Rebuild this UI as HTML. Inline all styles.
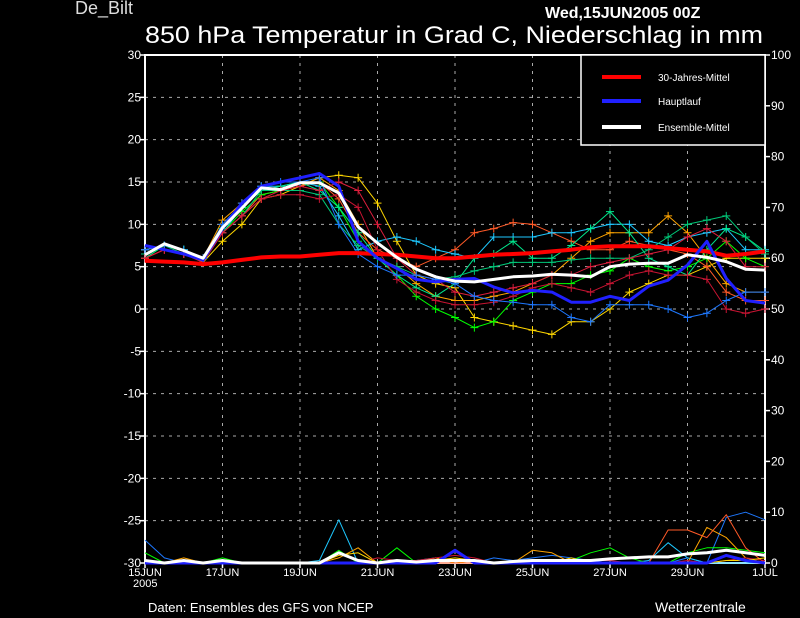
<!DOCTYPE html>
<html><head><meta charset="utf-8"><style>
html,body{margin:0;padding:0;background:#000;width:800px;height:618px;overflow:hidden}
svg{display:block;font-family:"Liberation Sans",sans-serif}
</style></head><body>
<svg id="c" width="800" height="618" viewBox="0 0 800 618">
<rect x="0" y="0" width="800" height="618" fill="#000"/>
<text x="75" y="14" fill="#ddd" font-size="18">De_Bilt</text>
<text x="545" y="18" fill="#fff" font-size="16" font-weight="bold">Wed,15JUN2005 00Z</text>
<text x="145" y="43" fill="#fff" font-size="24" textLength="618" lengthAdjust="spacingAndGlyphs">850 hPa Temperatur in Grad C, Niederschlag in mm</text>
<text x="148" y="612" fill="#fff" font-size="13">Daten: Ensembles des GFS von NCEP</text>
<text x="655" y="612" fill="#fff" font-size="14">Wetterzentrale</text>
<g id="grid"></g><g id="axes"></g><g id="prec"></g><g id="temp"></g>
<g>
<rect x="581" y="55" width="184" height="90" fill="#000" stroke="#fff" stroke-width="1.5"/>
<line x1="602" y1="77" x2="641" y2="77" stroke="#f00" stroke-width="4"/>
<text x="658" y="81" fill="#fff" font-size="10">30-Jahres-Mittel</text>
<line x1="602" y1="101" x2="641" y2="101" stroke="#2020ff" stroke-width="4"/>
<text x="658" y="105" fill="#fff" font-size="10">Hauptlauf</text>
<line x1="602" y1="127" x2="641" y2="127" stroke="#fff" stroke-width="4"/>
<text x="658" y="131" fill="#fff" font-size="10">Ensemble-Mittel</text>
</g>
</svg>
<script>
const tempTicks=[30,25,20,15,10,5,0,-5,-10,-15,-20,-25,-30];
const precTicks=[100,90,80,70,60,50,40,30,20,10,0];
const dayLabels=["15JUN","17JUN","19JUN","21JUN","23JUN","25JUN","27JUN","29JUN","1JUL"];
const climate=[5.7,5.6,5.5,5.3,5.5,5.8,6.1,6.2,6.2,6.4,6.6,6.6,6.5,6.4,6.2,6.0,6.0,6.2,6.4,6.5,6.6,6.8,7.0,7.3,7.4,7.4,7.4,7.2,7.0,6.8,6.3,6.5,6.8];
const mainRun=[7.5,7.0,6.5,5.8,9.5,12.5,14.5,15,15.5,16,14.5,8,6,4.8,3.5,3.2,3.5,3.6,2.6,1.9,2.2,2.0,0.8,0.8,1.5,1.0,2.7,3.4,5.2,8.0,3.6,1.0,0.7];
const ensMean=[6.4,7.7,6.9,6.0,9.6,11.9,14.3,14.1,14.9,14.9,13.7,9.7,7.8,6.1,4.7,3.8,3.3,3.2,3.5,3.8,3.9,4.1,4.0,3.8,5.0,5.3,5.4,5.4,6.4,6.1,5.6,4.7,4.6];
const memYellow=[7,7.5,7,5.5,8,10,13,13.5,14.5,15.5,15.8,15.5,12.5,8,4,3,2.5,-1,-1.5,-2,-2.5,-3,-1.5,-1.5,0,2,3,4,4,5,6,6,6];
const memOrange=[7,7.5,7,6,10.5,12.5,14,14,14.5,15.5,14,10,6,5,3,1.5,1,1,1.5,2,3,4,6,8,9,9,9,11,9,6,3,2,2];
const memRedOrange=[6,7,6.5,6,9,11,13.5,14,14.5,15,13,9,7,6,5,6,7,9,9.5,10.2,10,9,8,7,7,8,7.5,7,6.5,5,2,1,1];
const memCyan=[7,7.5,7,6,9,12,14.5,14.5,15,14.5,11,7,8,8.5,8,7,6.5,6,8.5,8.5,8.5,9,9,9.5,10,10,8,7.5,8.5,9,9.5,7,7];
const memGreen=[6,7.5,7,6,9,11.5,13.5,14,15,15,12,8,6,4,1.5,0,-1,-2.2,-1.5,1,2,3,3,4,4.5,6,5,4.5,5,6,8,6,5];
const memSpring=[6,7.5,7,6,9.5,12,14,14.5,15,14,12,9,6,4,2.5,1.5,3,6,6.5,8,6,6,7.5,9.5,11.5,9,6,5,4,7,9.5,8.5,6.8];
const memSea=[6.5,7.5,6.5,6,9,11,14,14,14,13.5,10,7.5,6,5,4,3.5,3.8,4.5,5,5.5,5.5,5.5,5.8,6,6,6,7,8.5,10,10.5,11,8.5,6.5];
const memDarkRed=[6,7,6.5,6,9,11,13,13.5,13.5,13,13.5,12,7,3.5,2,1,0.5,0.5,0.8,1.5,2.5,3,2.5,2,3,4,4.5,4,4,3.5,0,-0.5,0];
const memCrimson=[6,7,6.5,5.5,9,11,13,14,14.5,14,15,14,10,6,4,3.5,2,1.5,2,2.5,3,4,4,5,5.5,6,6.5,7,8.5,9.5,8,5,5];
const memBlue=[7,7.5,7,6,10,12.5,14.5,15,15,15.5,10,6.5,5,4,4,3.5,3,1.5,1,0.8,0.5,0.5,-1,-1.5,0.5,0.5,0.5,0,-1,-0.5,1,2,2];
const precBlue=[4.5,1,0,0,0,0,0,0,0,0,0,0,0,0,0,0,0,0,1,0.5,1,1.5,1,0.5,0,0,0,0,1,0,9,10,8.5];
const precCyan=[0,0,0,0,0,0,0,0,0,0.5,8.5,0,0,0,0.5,1,0,0,0,0,0,0,0,0,0,0,0.5,4,1,0,0,0,0];
const precGreen=[2,0,0,0,1,0,0,0,0,0,2.5,0,0,3,0,0,0,0,0,0,0,0,0.5,2,3,1,0,0,2,3,3,2.5,2];
const precOrange=[0,0,1,0,0.5,0,0,0,0,0,1,3,0,0,0,1,0,0.5,0,0,2.5,2,0,0,0,0,0,0,0,7,5,1,0];
const precRedOrange=[0,0,0,0,0,0,0,0,0,0,0,0,0,0,0,0,0,0,0,0,0,0,0,0,0,0,0,6.5,6.5,5,9.5,3,0];
const precDarkRed=[0,0,0.5,0,0,0,0,0,0,0,0,0,1,0.5,0.5,1,1.5,1,0,0,0,0,0,0.5,0.5,0,0,0,0.5,0,0.5,1,0.5];
const precYellow=[0,0,0.5,0,0.5,0,0,0,0,0,1.5,2,0,0,0,0.5,1,0.5,0,0,0,0,1,0,0,0,0,0,0,0,0.5,0.5,1];
const precMain=[0,0,0,0,0,0,0,0,0,0,0,0,0,0,0,0,2.5,0,0,0,0,0,0,0,0,0,0,0,0,0,1.5,0.5,0];
const precMean=[0.5,0,0.5,0,0.5,0,0,0,0,0,2,0.5,0,0.5,0.2,0.5,0.5,0.5,0,0.3,0.5,0.5,0.5,0.5,0.8,1,1.2,1.2,1.8,2,2.5,2,1.5];

const X0=145,X1=765,Y0=563,Y1=55,N=33;
const xAt=i=>X0+i*(X1-X0)/(N-1);
const yT=v=>Y0-(v+30)*(Y0-Y1)/60;
const yP=v=>Y0-v*(Y0-Y1)/100;
const NS="http://www.w3.org/2000/svg";
function mk(tag,attrs,parent){const e=document.createElementNS(NS,tag);for(const k in attrs)e.setAttribute(k,attrs[k]);parent.appendChild(e);return e;}
const grid=document.getElementById('grid'),axes=document.getElementById('axes'),prec=document.getElementById('prec'),temp=document.getElementById('temp');
tempTicks.forEach(t=>{
  const y=yT(t);
  if(t>-30&&t<30){const l=mk('line',{x1:X0,x2:X1,y1:y,y2:y,stroke:'#aaa','stroke-width':1,'stroke-dasharray':'3,5'},grid);
  
  }
  const tk=mk('line',{x1:X0-5,x2:X0,y1:y,y2:y,stroke:'#fff','stroke-width':1.5},axes);
  
  
  const tx=mk('text',{x:X0-4,y:y+4,fill:'#fff','font-size':12,'text-anchor':'end'},axes);
  tx.textContent=t;
  
  
});
precTicks.forEach(p=>{
  const y=yP(p);
  const tk=mk('line',{x1:X1,x2:X1+5,y1:y,y2:y,stroke:'#fff','stroke-width':1.5},axes);
  
  
  const tx=mk('text',{x:X1+6,y:y+4,fill:'#fff','font-size':12},axes);
  tx.textContent=p;
  
  
});
dayLabels.forEach((d,k)=>{
  const x=xAt(k*4);
  if(k>0&&k<dayLabels.length-1){const l=mk('line',{x1:x,x2:x,y1:Y1,y2:Y0,stroke:'#aaa','stroke-width':1,'stroke-dasharray':'3,5'},grid);
  
  }
  const tk=mk('line',{x1:x,x2:x,y1:Y0,y2:Y0+5,stroke:'#fff','stroke-width':1.5},axes);
  
  
  const tx=mk('text',{x:x,y:Y0+13,fill:'#fff','font-size':11,'text-anchor':'middle'},axes);
  tx.textContent=d;
  
  
});
const yr=mk('text',{x:X0-12,y:Y0+24,fill:'#fff','font-size':11},axes);
yr.textContent='2005';


const frame=mk('path',{d:`M${X0},${Y0}V${Y1}H${X1}V${Y0}H${X0}`,fill:'none',stroke:'#fff','stroke-width':2},axes);



function line(arr,yf,color,w,g,name,marks){
  const pts=arr.map((v,i)=>xAt(i).toFixed(1)+','+yf(v).toFixed(1)).join(' ');
  const p=mk('polyline',{points:pts,fill:'none',stroke:color,'stroke-width':w,'stroke-linejoin':'round'},g);
  
  
  if(marks){arr.forEach((v,i)=>{const x=xAt(i),y=yf(v);
    const m=mk('path',{d:`M${x-4},${y}H${x+4}M${x},${y-4}V${y+4}`,stroke:color,'stroke-width':1},g);
    
    });}
}
const members=[[memYellow,'#ffd700'],[memOrange,'#ffa500'],[memRedOrange,'#ff5a28'],[memCyan,'#1ec8ff'],[memGreen,'#00ff00'],[memSpring,'#00e68c'],[memSea,'#00c878'],[memDarkRed,'#c81432'],[memCrimson,'#dc1e3c'],[memBlue,'#1e78ff']];
members.forEach(([a,c])=>line(a,yT,c,1,temp,'ensemble-member-line',true));
line(climate,yT,'#ff0000',4,temp,'climate-mean-line',false);
line(mainRun,yT,'#2020ff',3,temp,'main-run-line',false);
line(ensMean,yT,'#ffffff',3,temp,'ensemble-mean-line',false);
const precs=[[precBlue,'#1e78ff'],[precCyan,'#1ec8ff'],[precGreen,'#00ff00'],[precOrange,'#ffa500'],[precRedOrange,'#ff5a28'],[precDarkRed,'#c81432'],[precYellow,'#ffd700']];
precs.forEach(([a,c])=>line(a,yP,c,1,prec,'member-precip-line',false));
line(precMain,yP,'#2020ff',3,prec,'main-run-precip-line',false);
line(precMean,yP,'#ffffff',3,prec,'ensemble-mean-precip-line',false);
</script>
</body></html>
